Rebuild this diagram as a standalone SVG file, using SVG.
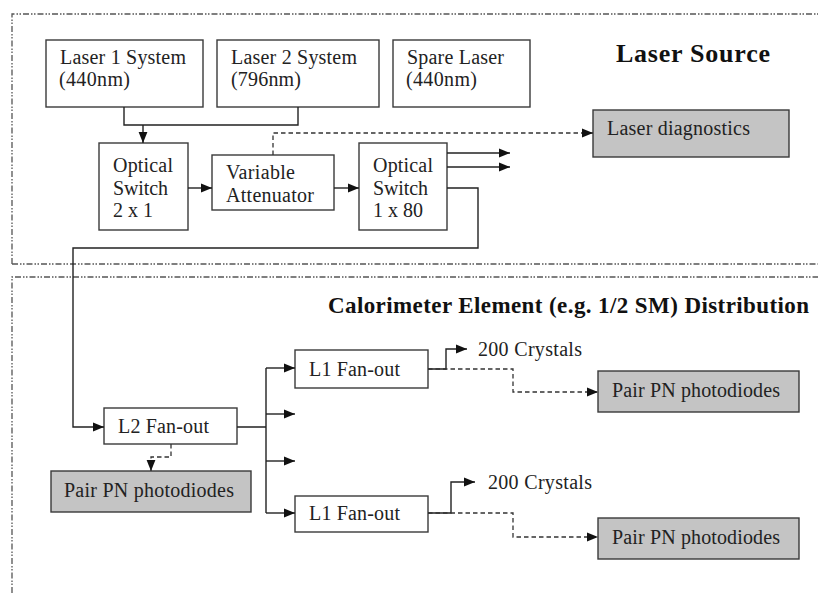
<svg xmlns="http://www.w3.org/2000/svg" width="818" height="593" viewBox="0 0 818 593" font-family="Liberation Serif, serif">
<style>
.frame{fill:none;stroke:#555;stroke-width:1.3;stroke-dasharray:6 2 1.5 1.5 1.5 2}
.box{fill:#fff;stroke:#3a3a3a;stroke-width:1.4}
.grey{fill:#c4c4c4;stroke:#3a3a3a;stroke-width:1.4}
.t{font-family:'Liberation Serif',serif;font-size:20px;fill:#222}
.h{font-family:'Liberation Serif',serif;font-weight:bold;fill:#111}
.c{fill:none;stroke:#222;stroke-width:1.4}
.d{fill:none;stroke:#333;stroke-width:1.3;stroke-dasharray:4.5 3}
</style>
<defs>
<marker id="a" markerUnits="userSpaceOnUse" markerWidth="11" markerHeight="11" viewBox="0 0 10 10" refX="10" refY="5" orient="auto">
<path d="M0,1 L10,5 L0,9 Z" fill="#111"/>
</marker>
</defs>
<g id="frames">
<path class="frame" d="M12,264 V14 H818"/>
<path class="frame" d="M12,264 H818"/>
<path class="frame" d="M12,593 V277 H818"/>
</g>
<text class="h" x="616" y="62" font-size="26" textLength="154">Laser Source</text>
<text class="h" x="328" y="313" font-size="23" textLength="481">Calorimeter Element (e.g. 1/2 SM) Distribution</text>
<g id="laser1"><rect class="box" x="46" y="40" width="157" height="67"/><text class="t" x="60" y="64" textLength="126">Laser 1 System</text><text class="t" x="59" y="86" textLength="71">(440nm)</text></g>
<g id="laser2"><rect class="box" x="217" y="40" width="162" height="67"/><text class="t" x="231" y="64" textLength="126">Laser 2 System</text><text class="t" x="231" y="86" textLength="70">(796nm)</text></g>
<g id="spare"><rect class="box" x="393" y="40" width="137" height="67"/><text class="t" x="407" y="64" textLength="97">Spare Laser</text><text class="t" x="406" y="86" textLength="71">(440nm)</text></g>
<g id="switch21"><rect class="box" x="99" y="143" width="89" height="87"/><text class="t" x="113" y="172" textLength="60">Optical</text><text class="t" x="113" y="195" textLength="55">Switch</text><text class="t" x="113" y="217" textLength="40">2 x 1</text></g>
<g id="attenuator"><rect class="box" x="212" y="155" width="122" height="55"/><text class="t" x="226" y="179" textLength="69">Variable</text><text class="t" x="226" y="202" textLength="88">Attenuator</text></g>
<g id="switch180"><rect class="box" x="359" y="143" width="88" height="87"/><text class="t" x="373" y="172" textLength="60">Optical</text><text class="t" x="373" y="195" textLength="55">Switch</text><text class="t" x="373" y="217" textLength="50">1 x 80</text></g>
<g id="diag"><rect class="grey" x="593" y="110" width="196" height="47"/><text class="t" x="607" y="135" textLength="143">Laser diagnostics</text></g>
<g id="l2"><rect class="box" x="104" y="408" width="133" height="36"/><text class="t" x="118" y="433" textLength="91">L2 Fan-out</text></g>
<g id="pn0"><rect class="grey" x="51" y="471" width="200" height="41"/><text class="t" x="64" y="497" textLength="170">Pair PN photodiodes</text></g>
<g id="l1a"><rect class="box" x="295" y="350" width="133" height="38"/><text class="t" x="309" y="376" textLength="91">L1 Fan-out</text></g>
<g id="l1b"><rect class="box" x="295" y="496" width="133" height="36"/><text class="t" x="309" y="520" textLength="91">L1 Fan-out</text></g>
<g id="pn1"><rect class="grey" x="598" y="371" width="201" height="41"/><text class="t" x="612" y="397" textLength="168">Pair PN photodiodes</text></g>
<g id="pn2"><rect class="grey" x="598" y="518" width="201" height="41"/><text class="t" x="612" y="544" textLength="168">Pair PN photodiodes</text></g>
<text class="t" x="478" y="356" textLength="104">200 Crystals</text>
<text class="t" x="488" y="489" textLength="104">200 Crystals</text>
<g id="connectors">
<path class="c" d="M124,107 V125 H298 V107"/>
<path class="c" d="M143,125 V143" marker-end="url(#a)"/>
<path class="c" d="M188,188 H212" marker-end="url(#a)"/>
<path class="c" d="M334,188 H359" marker-end="url(#a)"/>
<path class="d" d="M273,155 V133 H593" marker-end="url(#a)"/>
<path class="c" d="M447,153 H510" marker-end="url(#a)"/>
<path class="c" d="M447,167 H510" marker-end="url(#a)"/>
<path class="c" d="M447,188 H478 V248 H73 V427 H104" marker-end="url(#a)"/>
<path class="c" d="M237,427 H266 M266,368 V513"/>
<path class="c" d="M266,368 H295" marker-end="url(#a)"/>
<path class="c" d="M266,414 H295" marker-end="url(#a)"/>
<path class="c" d="M266,461 H295" marker-end="url(#a)"/>
<path class="c" d="M266,513 H295" marker-end="url(#a)"/>
<path class="c" d="M428,369 H446 V349 H467" marker-end="url(#a)"/>
<path class="d" d="M428,369 H513 V392 H598" marker-end="url(#a)"/>
<path class="c" d="M428,513 H451 V482 H475" marker-end="url(#a)"/>
<path class="d" d="M428,513 H513 V537 H598" marker-end="url(#a)"/>
<path class="d" d="M171,444 V457 H151 V471" marker-end="url(#a)"/>
</g>
</svg>
